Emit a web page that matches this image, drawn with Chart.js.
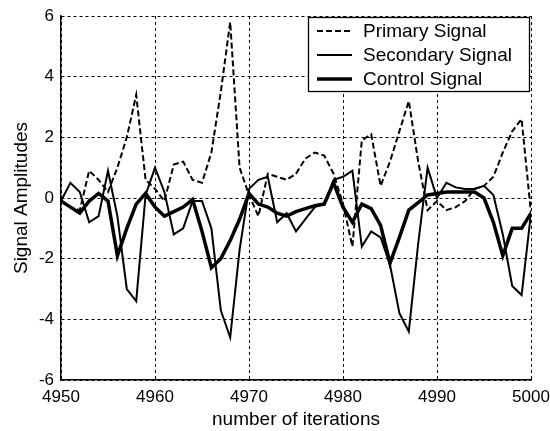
<!DOCTYPE html>
<html>
<head>
<meta charset="utf-8">
<script src="https://cdn.jsdelivr.net/npm/chart.js@4.4.1/dist/chart.umd.min.js"></script>
<style>
  html, body { margin: 0; padding: 0; background: #ffffff; }
  #wrap { width: 550px; height: 431px; position: relative; }
</style>
</head>
<body>
<div id="wrap"><canvas id="c" width="550" height="431"></canvas></div>
<script>
const iterations = [4950,4951,4952,4953,4954,4955,4956,4957,4958,4959,
  4960,4961,4962,4963,4964,4965,4966,4967,4968,4969,
  4970,4971,4972,4973,4974,4975,4976,4977,4978,4979,
  4980,4981,4982,4983,4984,4985,4986,4987,4988,4989,
  4990,4991,4992,4993,4994,4995,4996,4997,4998,4999,5000];

const primarySignal = [-0.1,-0.3,-0.4,0.9,0.6,0.2,1.0,2.0,3.4,0.6,
  0.3,-0.1,1.1,1.2,0.6,0.5,1.5,3.5,5.8,1.0,
  0.1,-0.6,0.8,0.7,0.6,0.8,1.3,1.5,1.4,0.8,
  -0.2,-1.6,1.9,2.1,0.4,1.2,2.2,3.2,1.2,-0.4,
  -0.1,-0.4,-0.3,-0.1,0.3,0.4,0.7,1.5,2.2,2.6,-0.5];

const secondarySignal = [-0.1,0.5,0.2,-0.8,-0.6,0.9,-0.6,-3.0,-3.4,0.1,
  1.0,0.2,-1.2,-1.0,-0.1,-0.1,-1.0,-3.7,-4.6,-1.7,
  0.3,0.6,0.7,-0.8,-0.5,-1.1,-0.7,-0.3,-0.2,0.6,
  0.7,0.9,-1.6,-1.1,-1.3,-2.2,-3.8,-4.4,-1.5,1.0,
  0.0,0.5,0.35,0.3,0.3,0.4,0.1,-1.2,-2.9,-3.2,-0.5];

const controlSignal = [-0.1,-0.3,-0.5,-0.1,0.15,-0.1,-1.9,-1.0,-0.2,0.15,
  -0.3,-0.6,-0.45,-0.3,-0.05,-1.1,-2.3,-2.0,-1.4,-0.7,
  0.15,-0.2,-0.3,-0.5,-0.6,-0.45,-0.35,-0.25,-0.2,0.5,
  -0.3,-0.8,-0.2,-0.35,-0.9,-2.15,-1.3,-0.4,-0.15,0.1,
  0.15,0.2,0.2,0.2,0.2,0.0,-0.8,-1.9,-1.0,-1.0,-0.5];

const seriesLabels = ["Primary Signal", "Secondary Signal", "Control Signal"];
const xTicks = [4950, 4960, 4970, 4980, 4990, 5000];
const yTicks = [-6, -4, -2, 0, 2, 4, 6];
const xTitle = "number of iterations";
const yTitle = "Signal Amplitudes";

function pts(vals) { return iterations.map((x, i) => ({ x: x, y: vals[i] })); }

const FONT = "'Liberation Sans', Arial, sans-serif";

const legendBox = {
  id: 'legendBox',
  afterDatasetsDraw(chart) {
    const ctx = chart.ctx;
    const x0 = 308, y0 = 17, x1 = 530, y1 = 92;
    ctx.save();
    ctx.fillStyle = '#ffffff';
    ctx.fillRect(x0, y0, x1 - x0, y1 - y0);
    ctx.strokeStyle = '#000000';
    ctx.lineWidth = 1.3;
    ctx.strokeRect(x0 + 0.5, y0 + 0.5, x1 - x0 - 1, y1 - y0 - 1);
    const rows = [31, 55, 79];
    chart.data.datasets.forEach((ds, i) => {
      const y = rows[i];
      ctx.beginPath();
      ctx.setLineDash(ds.borderDash || []);
      ctx.lineWidth = ds.borderWidth;
      ctx.strokeStyle = ds.borderColor;
      ctx.moveTo(317, y);
      ctx.lineTo(352, y);
      ctx.stroke();
      ctx.setLineDash([]);
      ctx.fillStyle = '#000000';
      ctx.font = "19px " + FONT;
      ctx.textBaseline = 'middle';
      ctx.textAlign = 'left';
      ctx.fillText(ds.label, 363, y + 1);
    });
    ctx.restore();
  }
};

new Chart(document.getElementById('c'), {
  type: 'line',
  data: {
    datasets: [
      { label: seriesLabels[0], data: pts(primarySignal), borderColor: '#000000', borderWidth: 2, borderDash: [6, 3], pointRadius: 0, tension: 0, fill: false },
      { label: seriesLabels[1], data: pts(secondarySignal), borderColor: '#000000', borderWidth: 2, pointRadius: 0, tension: 0, fill: false },
      { label: seriesLabels[2], data: pts(controlSignal), borderColor: '#000000', borderWidth: 3.5, pointRadius: 0, tension: 0, fill: false }
    ]
  },
  options: {
    responsive: false,
    animation: false,
    layout: { padding: { left: 0, right: 19, top: 16, bottom: 0 } },
    plugins: { legend: { display: false }, tooltip: { enabled: false } },
    scales: {
      x: {
        type: 'linear',
        min: 4950, max: 5000,
        afterBuildTicks: (s) => { s.ticks = xTicks.map(v => ({ value: v })); },
        afterFit: (s) => { s.height = 51; s.paddingLeft = 0; s.paddingRight = 0; },
        grid: { color: '#000000', lineWidth: 1, drawTicks: false },
        border: { display: true, color: '#000000', width: 1.5, dash: [3, 3] },
        ticks: { color: '#000000', font: { size: 17, family: FONT }, padding: 7, maxRotation: 0, autoSkip: false, callback: (v) => String(v) },
        title: { display: true, text: xTitle, color: '#000000', font: { size: 19, family: FONT }, padding: { top: 0, bottom: 0 } }
      },
      y: {
        type: 'linear',
        min: -6, max: 6,
        afterBuildTicks: (s) => { s.ticks = yTicks.map(v => ({ value: v })); },
        afterFit: (s) => { s.width = 61; s.paddingTop = 0; s.paddingBottom = 0; },
        grid: { color: '#000000', lineWidth: 1, drawTicks: false },
        border: { display: true, color: '#000000', width: 1.5, dash: [3, 3] },
        ticks: { color: '#000000', font: { size: 17, family: FONT }, padding: 7, autoSkip: false, callback: (v) => String(v) },
        title: { display: true, text: yTitle, color: '#000000', font: { size: 19, family: FONT }, padding: { top: 10, bottom: 0 } }
      }
    }
  },
  plugins: [legendBox]
});
</script>
</body>
</html>
